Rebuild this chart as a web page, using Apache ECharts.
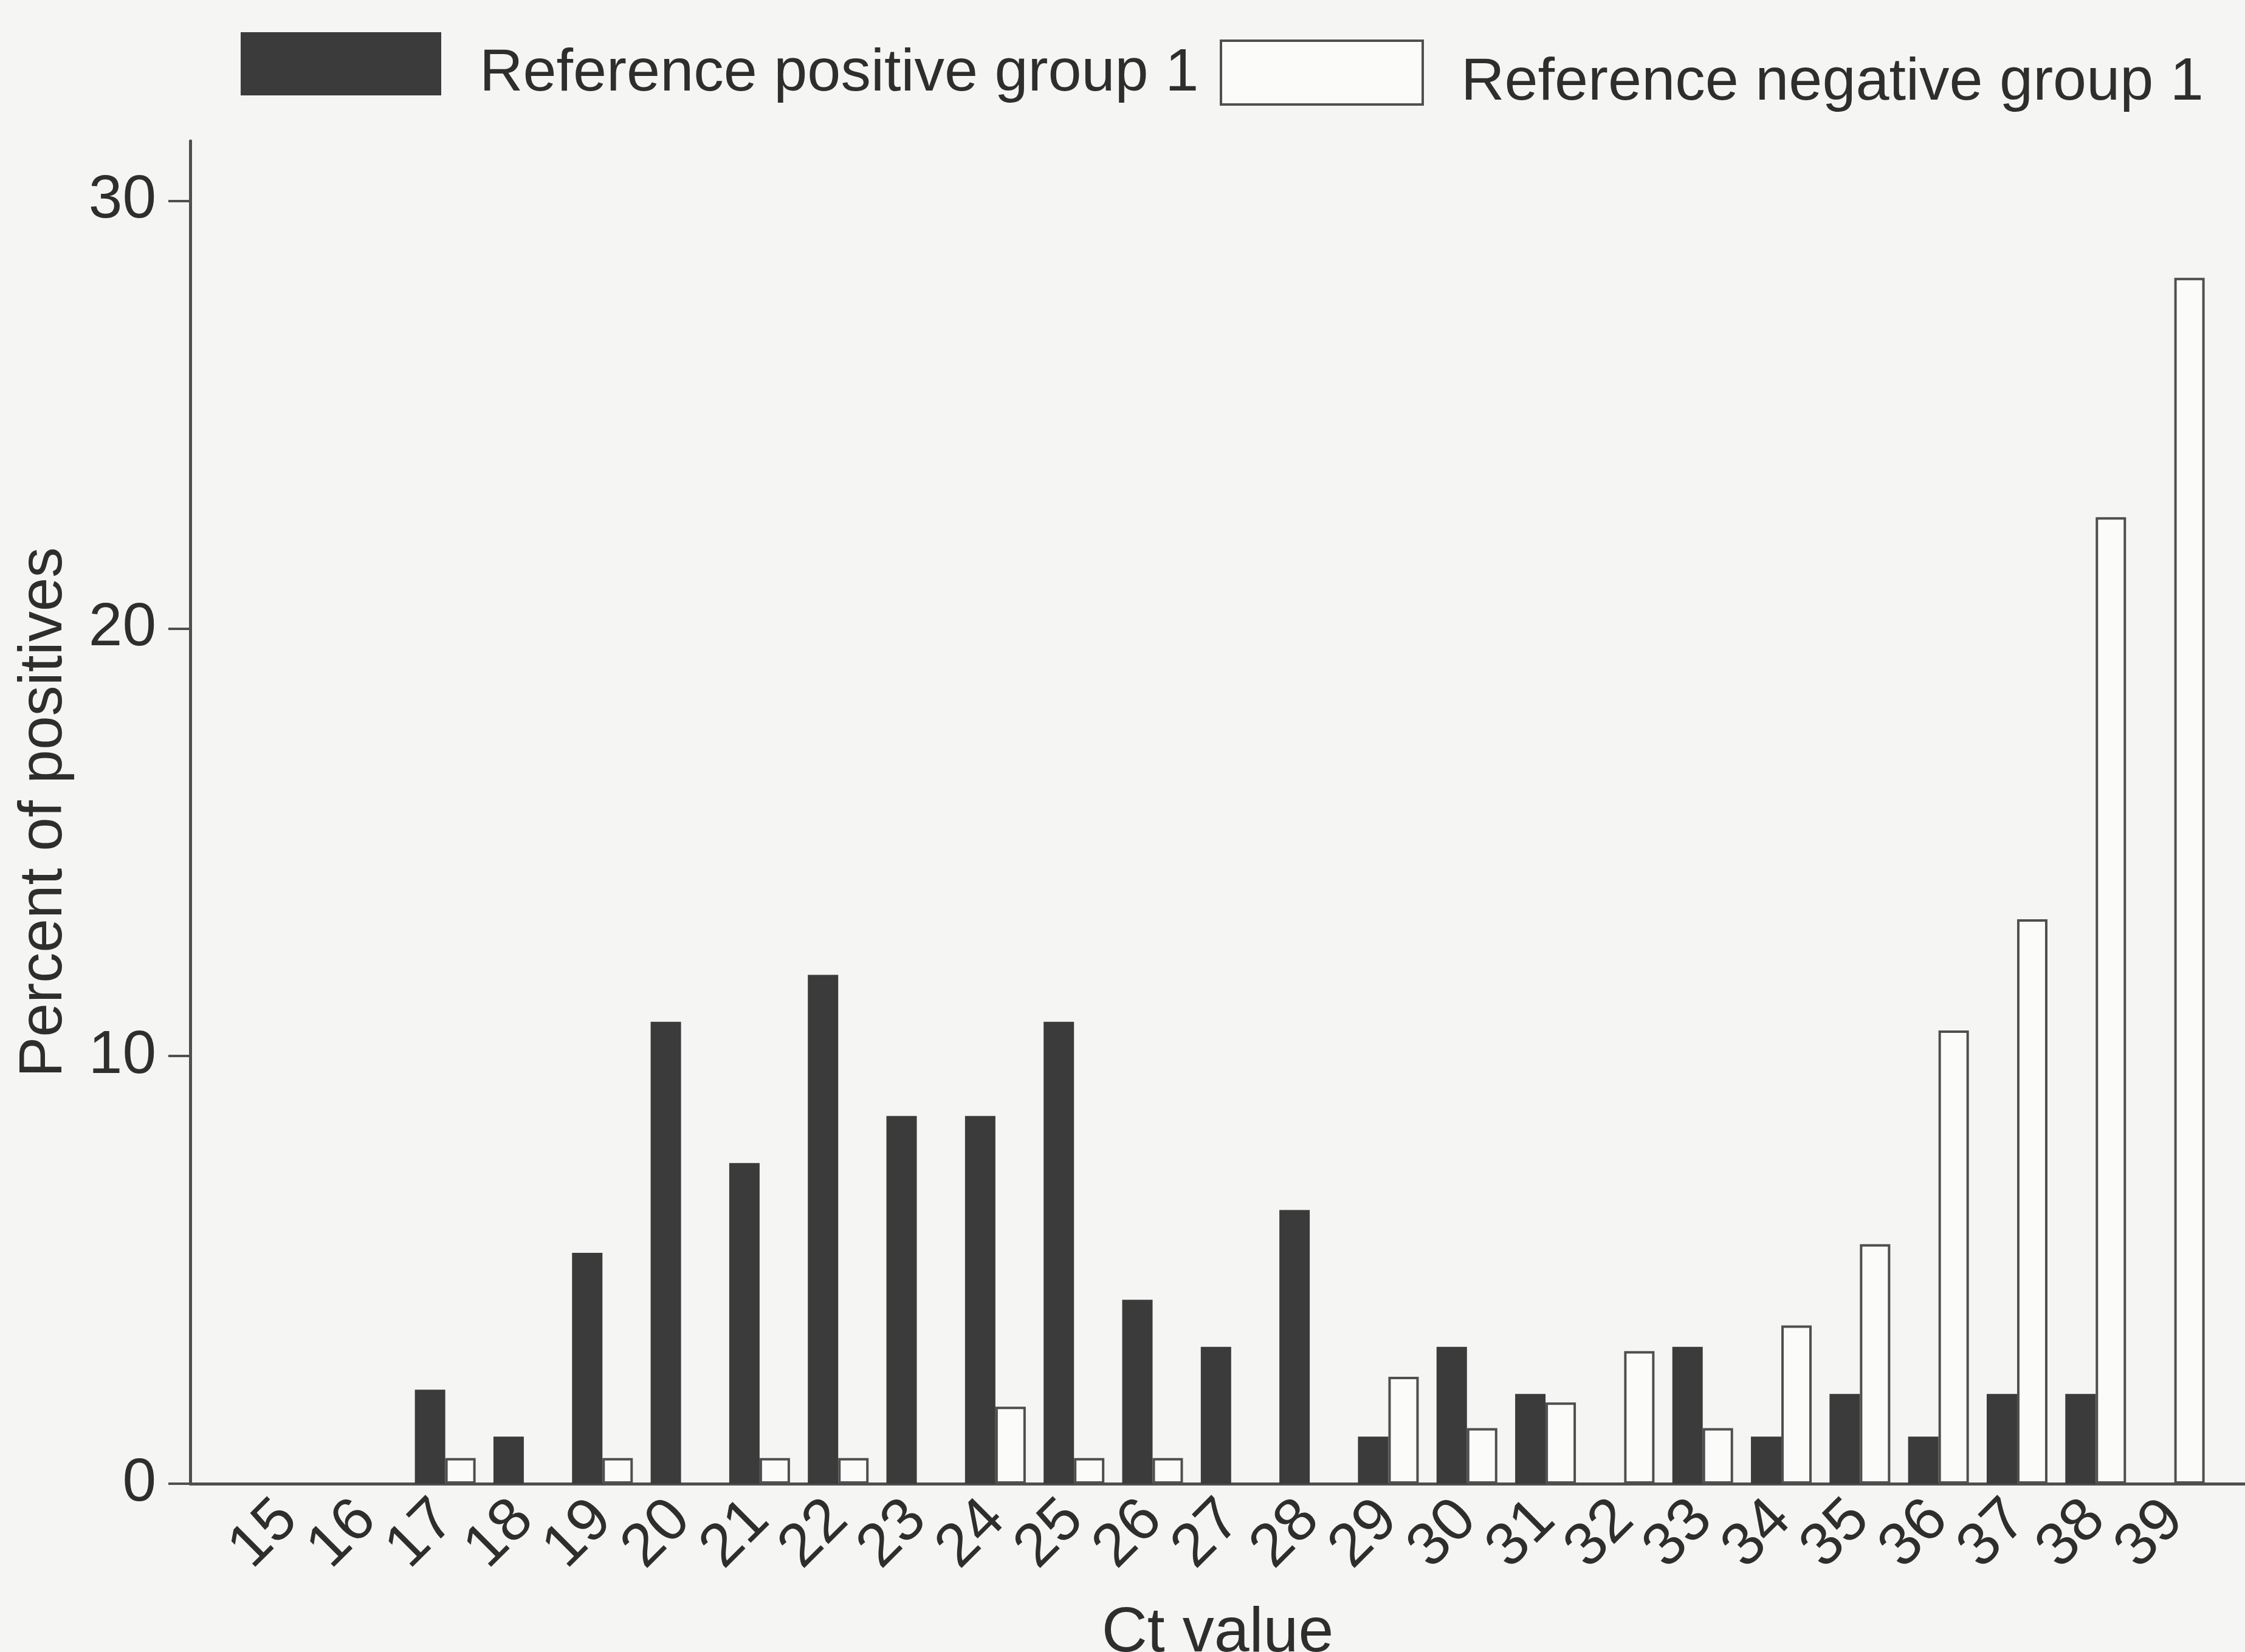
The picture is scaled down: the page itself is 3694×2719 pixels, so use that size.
<!DOCTYPE html>
<html>
<head>
<meta charset="utf-8">
<script src="https://cdn.jsdelivr.net/npm/echarts@6/dist/echarts.min.js"></script>
<style>
  html, body { margin: 0; padding: 0; background: #f5f5f3; }
  #chart { width: 3694px; height: 2719px; }
</style>
</head>
<body>
<div id="chart"></div>
<script>
// Ct value categories along the x axis
const ctValues = [15, 16, 17, 18, 19, 20, 21, 22, 23, 24, 25, 26, 27, 28, 29, 30, 31, 32, 33, 34, 35, 36, 37, 38, 39];
// Percent of positives for each Ct value
const refPositive = [0, 0, 2.2, 1.1, 5.4, 10.8, 7.5, 11.9, 8.6, 8.6, 10.8, 4.3, 3.2, 6.4, 1.1, 3.2, 2.1, 0, 3.2, 1.1, 2.1, 1.1, 2.1, 2.1, 0];
const refNegative = [0, 0, 0.6, 0, 0.6, 0, 0.6, 0.6, 0, 1.8, 0.6, 0.6, 0, 0, 2.5, 1.3, 1.9, 3.1, 1.3, 3.7, 5.6, 10.6, 13.2, 22.6, 28.2];
// Tick marks on the percent axis
const yTickValues = [0, 10, 20, 30];
const seriesNames = ['Reference positive group 1', 'Reference negative group 1'];

const FONT = "'Liberation Sans', Arial, Helvetica, sans-serif";
const INK = '#2e2e2e';
const AXIS = '#4f4f4f';
const DARK = '#3b3b3b';
const OPEN = '#fbfbfa';

// plot frame (px) and the Ct range it spans
const PLOT = { left: 313, right: 0, top: 232, bottom: 277 };
const CT_MIN = 13.755, CT_MAX = 39.9;
const plotWidth = 3694 - PLOT.left - PLOT.right;
const pxPerCt = plotWidth / (CT_MAX - CT_MIN);
// band grid that carries one category slot per Ct value
const bandLeft = PLOT.left + (ctValues[0] - 0.5 - CT_MIN) * pxPerCt;
const bandRight = 3694 - (PLOT.left + (ctValues[ctValues.length - 1] + 0.5 - CT_MIN) * pxPerCt);

const chart = echarts.init(document.getElementById('chart'), null, { renderer: 'canvas' });

const legendText = {
  fontSize: 99, color: INK, fontFamily: FONT,
  rich: { t: { fontSize: 99, color: INK, fontFamily: FONT, padding: [17, 0, -17, 58] } }
};

chart.setOption({
  animation: false,
  backgroundColor: '#f5f5f3',
  textStyle: { fontFamily: FONT, color: INK },
  legend: [
    {
      data: [{ name: seriesNames[0], icon: 'rect', itemStyle: { color: DARK } }],
      left: 396, top: 53, padding: 0,
      itemWidth: 330, itemHeight: 104,
      selectedMode: false,
      formatter: '{t|{name}}',
      textStyle: legendText
    },
    {
      data: [{ name: seriesNames[1], icon: 'rect', itemStyle: { color: OPEN, borderColor: AXIS, borderWidth: 4 } }],
      left: 2007, top: 65, padding: 0,
      itemWidth: 332, itemHeight: 105,
      selectedMode: false,
      formatter: '{t|{name}}',
      textStyle: legendText
    }
  ],
  grid: [
    { left: PLOT.left, right: PLOT.right, top: PLOT.top, bottom: PLOT.bottom, containLabel: false, outerBoundsMode: 'none' },
    { left: bandLeft, right: bandRight, top: PLOT.top, bottom: PLOT.bottom, containLabel: false, outerBoundsMode: 'none' }
  ],
  xAxis: [
    {
      type: 'value',
      gridIndex: 0,
      min: CT_MIN,
      max: CT_MAX,
      name: 'Ct value',
      nameLocation: 'middle',
      nameGap: 195,
      nameTextStyle: { fontSize: 104, color: INK, fontFamily: FONT },
      axisLine: { show: true, onZero: false, lineStyle: { color: AXIS, width: 5 } },
      axisTick: { show: false },
      splitLine: { show: false },
      axisLabel: { show: false }
    },
    {
      type: 'category',
      gridIndex: 1,
      data: ctValues.map(String),
      boundaryGap: true,
      axisLine: { show: false, onZero: false },
      axisTick: { show: false },
      splitLine: { show: false },
      axisLabel: {
        interval: 0,
        rotate: 45,
        margin: 44,
        fontSize: 100,
        color: INK,
        fontFamily: FONT
      }
    }
  ],
  yAxis: [
    {
      type: 'value',
      gridIndex: 0,
      min: 0,
      max: 31.4,
      name: 'Percent of positives',
      nameLocation: 'middle',
      nameGap: 190,
      nameTextStyle: { fontSize: 100, color: INK, fontFamily: FONT },
      axisLine: { show: true, onZero: false, lineStyle: { color: AXIS, width: 5 } },
      axisTick: { show: true, length: 36, customValues: yTickValues, lineStyle: { color: AXIS, width: 4 } },
      splitLine: { show: false },
      axisLabel: {
        customValues: yTickValues,
        margin: 56,
        fontSize: 100,
        color: INK,
        fontFamily: FONT
      }
    },
    { type: 'value', gridIndex: 1, min: 0, max: 31.4, show: false }
  ],
  series: [
    {
      name: seriesNames[0],
      type: 'bar',
      xAxisIndex: 0,
      yAxisIndex: 0,
      barWidth: 50,
      barGap: '0%',
      itemStyle: { color: DARK },
      data: ctValues.map((c, i) => [c, refPositive[i]])
    },
    {
      name: seriesNames[1],
      type: 'bar',
      xAxisIndex: 0,
      yAxisIndex: 0,
      barWidth: 50,
      barGap: '0%',
      itemStyle: { color: OPEN, borderColor: AXIS, borderWidth: 4 },
      data: ctValues.map((c, i) => [c, refNegative[i]])
    }
  ]
});
</script>
</body>
</html>
